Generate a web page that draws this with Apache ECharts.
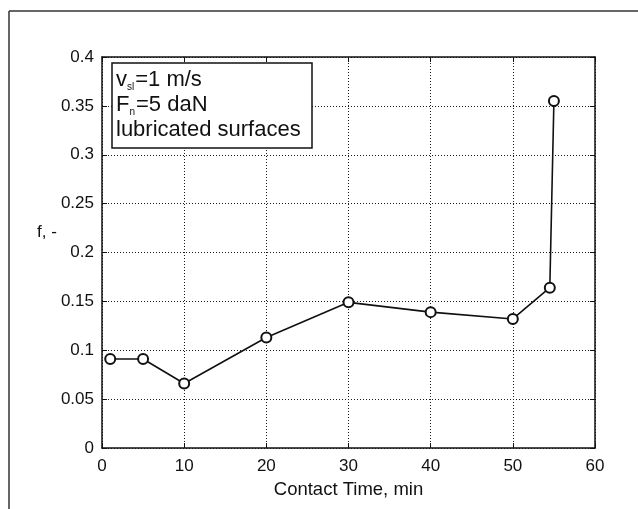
<!DOCTYPE html>
<html>
<head>
<meta charset="utf-8">
<script src="https://cdn.jsdelivr.net/npm/echarts@6/dist/echarts.min.js"></script>
<style>
  html, body { margin: 0; padding: 0; background: #fff; }
  #chart { width: 638px; height: 509px; }
</style>
</head>
<body>
<div id="chart"></div>
<script>
// Contact time (min) and friction coefficient f
const contactTime = [1, 5, 10, 20, 30, 40, 50, 54.5, 55];
const friction = [0.091, 0.091, 0.066, 0.113, 0.149, 0.139, 0.132, 0.164, 0.355];

const xTicks = { min: 0, max: 60, interval: 10 };
const yTicks = { min: 0, max: 0.4, interval: 0.05 };

const FONT = '"Liberation Sans", Arial, sans-serif';

const chart = echarts.init(document.getElementById('chart'), null, { renderer: 'canvas' });

const tickStyle = { show: true, inside: true, length: 5, lineStyle: { color: '#111', width: 1 } };
const gridStyle = { show: true, lineStyle: { color: '#1a1a1a', type: [1, 2], width: 1 } };

chart.setOption({
  animation: false,
  backgroundColor: '#fff',
  grid: { left: 102, right: 43, top: 57, bottom: 61, containLabel: false },
  xAxis: [
    {
      type: 'value', position: 'bottom',
      min: xTicks.min, max: xTicks.max, interval: xTicks.interval,
      name: 'Contact Time, min', nameLocation: 'middle', nameGap: 32,
      nameTextStyle: { fontFamily: FONT, fontSize: 18.5, color: '#111' },
      axisLine: { show: true, onZero: false, lineStyle: { color: '#111', width: 1.5 } },
      axisTick: tickStyle,
      axisLabel: { fontFamily: FONT, fontSize: 17, color: '#111', margin: 10 },
      splitLine: gridStyle
    },
    {
      type: 'value', position: 'top',
      min: xTicks.min, max: xTicks.max, interval: xTicks.interval,
      axisLine: { show: true, onZero: false, lineStyle: { color: '#111', width: 1.5 } },
      axisTick: tickStyle,
      axisLabel: { show: false },
      splitLine: { show: false }
    }
  ],
  yAxis: [
    {
      type: 'value', position: 'left',
      min: yTicks.min, max: yTicks.max, interval: yTicks.interval,
      axisLine: { show: true, onZero: false, lineStyle: { color: '#111', width: 1.5 } },
      axisTick: tickStyle,
      axisLabel: {
        fontFamily: FONT, fontSize: 17, color: '#111', margin: 8,
        formatter: v => String(+v.toFixed(2))
      },
      splitLine: gridStyle
    },
    {
      type: 'value', position: 'right',
      min: yTicks.min, max: yTicks.max, interval: yTicks.interval,
      axisLine: { show: true, onZero: false, lineStyle: { color: '#111', width: 1.5 } },
      axisTick: tickStyle,
      axisLabel: { show: false },
      splitLine: { show: false }
    }
  ],
  series: [
    {
      type: 'line',
      xAxisIndex: 0, yAxisIndex: 0,
      data: contactTime.map((t, i) => [t, friction[i]]),
      symbol: 'emptyCircle',
      symbolSize: 10,
      lineStyle: { color: '#111', width: 1.6 },
      itemStyle: { color: '#111', borderColor: '#111', borderWidth: 1.4 },
      z: 5
    }
  ],
  graphic: [
    // figure frame
    { type: 'line', shape: { x1: 9, y1: 11, x2: 638, y2: 11 }, style: { stroke: '#333', lineWidth: 1.5 } },
    { type: 'line', shape: { x1: 9, y1: 11, x2: 9, y2: 509 }, style: { stroke: '#333', lineWidth: 1.5 } },
    // y axis title
    {
      type: 'text', left: 37, top: 224,
      style: { text: 'f, -', fontFamily: FONT, fontSize: 17, fill: '#111' }
    },
    // annotation box
    {
      type: 'rect', shape: { x: 112, y: 63, width: 200, height: 85 },
      style: { fill: '#fff', stroke: '#111', lineWidth: 1.5 }, z: 10
    },
    {
      type: 'text', x: 116, y: 67, z: 11,
      style: {
        text: '{m|v}{s|sl}{m|=1 m/s}\n{m|F}{s|n}{m|=5 daN}\n{m|lubricated surfaces}',
        fontFamily: FONT, fill: '#111', lineHeight: 25,
        rich: {
          m: { fontFamily: FONT, fontSize: 22, fill: '#111', lineHeight: 25 },
          s: { fontFamily: FONT, fontSize: 10, fill: '#111', lineHeight: 25, verticalAlign: 'bottom', padding: [10, 1, 0, 0] }
        }
      }
    }
  ]
});
</script>
</body>
</html>
